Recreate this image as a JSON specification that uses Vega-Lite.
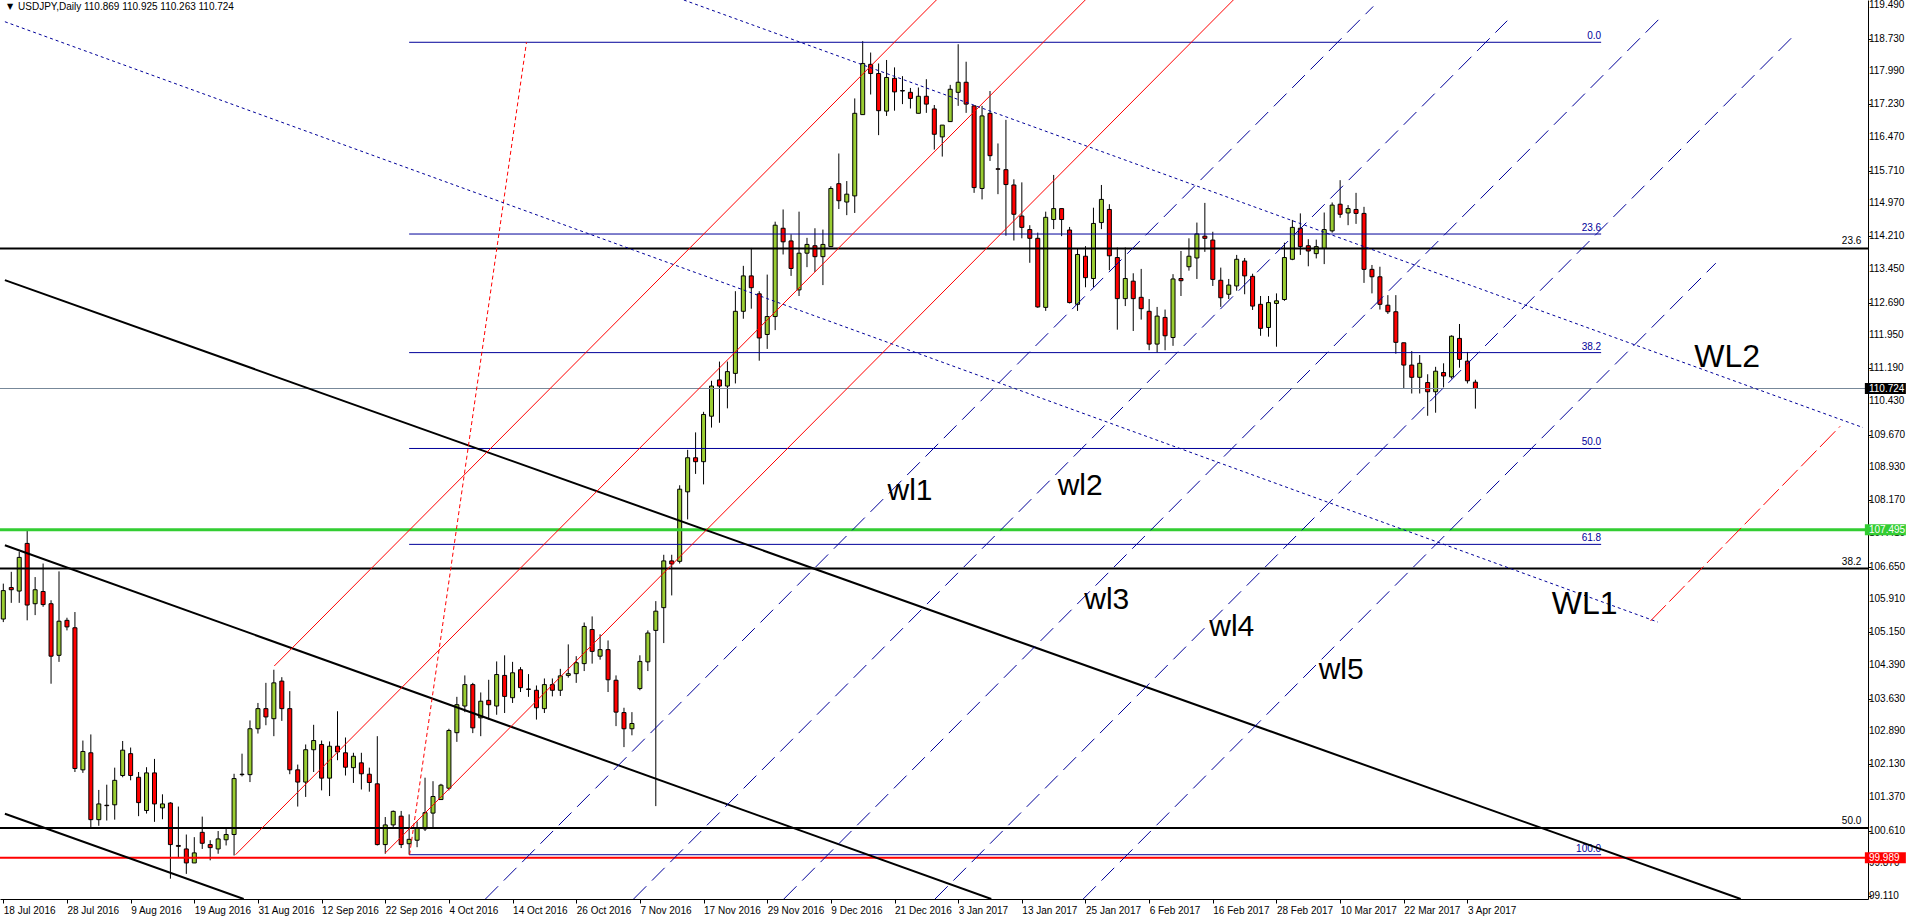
{
  "$schema": "https://vega.github.io/schema/vega-lite/v6.json",
  "width": 1868,
  "height": 899,
  "autosize": {"type": "none"},
  "padding": {"left": 0, "top": 0, "right": 45, "bottom": 24},
  "background": "white",
  "config": {
    "view": {"stroke": null},
    "font": "Liberation Sans",
    "axis": {"grid": false, "title": null, "labelColor": "#000000", "tickColor": "#000000", "domainColor": "#000000", "labelFontSize": 10, "labelFont": "Liberation Sans", "labelOverlap": false, "labelFlush": false, "labelBound": false}
  },
  "datasets": {
    "candles": [
      {"i":0,"o":105.45,"h":106.26,"l":105.38,"c":106.10},
      {"i":1,"o":106.17,"h":106.53,"l":105.82,"c":106.12},
      {"i":2,"o":106.09,"h":106.99,"l":105.82,"c":106.86},
      {"i":3,"o":107.18,"h":107.48,"l":105.42,"c":105.77},
      {"i":4,"o":105.80,"h":106.41,"l":105.54,"c":106.12},
      {"i":5,"o":106.08,"h":106.72,"l":105.73,"c":105.78},
      {"i":6,"o":105.80,"h":105.88,"l":103.97,"c":104.60},
      {"i":7,"o":104.62,"h":106.54,"l":104.47,"c":105.40},
      {"i":8,"o":105.42,"h":105.48,"l":105.19,"c":105.27},
      {"i":9,"o":105.25,"h":105.61,"l":101.95,"c":102.03},
      {"i":10,"o":102.00,"h":102.67,"l":101.93,"c":102.42},
      {"i":11,"o":102.39,"h":102.81,"l":100.69,"c":100.86},
      {"i":12,"o":100.86,"h":101.54,"l":100.72,"c":101.22},
      {"i":13,"o":101.19,"h":101.66,"l":100.84,"c":101.18},
      {"i":14,"o":101.20,"h":102.05,"l":100.86,"c":101.76},
      {"i":15,"o":101.87,"h":102.66,"l":101.83,"c":102.45},
      {"i":16,"o":102.37,"h":102.51,"l":101.76,"c":101.87},
      {"i":17,"o":101.83,"h":101.95,"l":100.94,"c":101.25},
      {"i":18,"o":101.07,"h":102.06,"l":101.00,"c":101.93},
      {"i":19,"o":101.93,"h":102.25,"l":100.81,"c":101.22},
      {"i":20,"o":101.13,"h":101.44,"l":100.87,"c":101.22},
      {"i":21,"o":101.24,"h":101.26,"l":99.51,"c":100.29},
      {"i":22,"o":100.27,"h":101.16,"l":100.00,"c":100.25},
      {"i":23,"o":100.19,"h":100.52,"l":99.62,"c":99.87},
      {"i":24,"o":99.87,"h":100.46,"l":99.87,"c":100.10},
      {"i":25,"o":100.57,"h":100.93,"l":100.19,"c":100.32},
      {"i":26,"o":100.29,"h":100.39,"l":99.93,"c":100.22},
      {"i":27,"o":100.19,"h":100.60,"l":100.08,"c":100.42},
      {"i":28,"o":100.40,"h":100.67,"l":100.27,"c":100.52},
      {"i":29,"o":100.52,"h":101.91,"l":100.04,"c":101.80},
      {"i":30,"o":101.90,"h":102.37,"l":101.85,"c":101.89},
      {"i":31,"o":101.89,"h":103.13,"l":101.72,"c":102.94},
      {"i":32,"o":102.94,"h":103.53,"l":102.83,"c":103.40},
      {"i":33,"o":103.40,"h":103.99,"l":103.02,"c":103.21},
      {"i":34,"o":103.17,"h":104.29,"l":102.77,"c":103.99},
      {"i":35,"o":104.03,"h":104.12,"l":103.12,"c":103.40},
      {"i":36,"o":103.40,"h":103.80,"l":101.90,"c":102.00},
      {"i":37,"o":102.00,"h":102.12,"l":101.16,"c":101.72},
      {"i":38,"o":101.72,"h":102.58,"l":101.38,"c":102.46},
      {"i":39,"o":102.46,"h":103.03,"l":101.95,"c":102.67},
      {"i":40,"o":102.58,"h":102.67,"l":101.53,"c":101.81},
      {"i":41,"o":101.81,"h":102.65,"l":101.40,"c":102.54},
      {"i":42,"o":102.54,"h":103.34,"l":102.22,"c":102.41},
      {"i":43,"o":102.39,"h":102.74,"l":101.87,"c":102.06},
      {"i":44,"o":102.05,"h":102.39,"l":101.70,"c":102.31},
      {"i":45,"o":102.16,"h":102.39,"l":101.55,"c":101.91},
      {"i":46,"o":101.90,"h":102.05,"l":101.50,"c":101.71},
      {"i":47,"o":101.68,"h":102.77,"l":100.27,"c":100.29},
      {"i":48,"o":100.29,"h":100.92,"l":100.08,"c":100.74},
      {"i":49,"o":100.74,"h":101.07,"l":100.68,"c":101.05},
      {"i":50,"o":100.94,"h":101.06,"l":100.21,"c":100.29},
      {"i":51,"o":100.31,"h":100.98,"l":100.06,"c":100.41},
      {"i":52,"o":100.39,"h":100.82,"l":100.23,"c":100.67},
      {"i":53,"o":100.65,"h":101.82,"l":100.60,"c":101.02},
      {"i":54,"o":101.01,"h":101.74,"l":100.69,"c":101.39},
      {"i":55,"o":101.32,"h":101.68,"l":101.32,"c":101.65},
      {"i":56,"o":101.58,"h":102.94,"l":101.53,"c":102.90},
      {"i":57,"o":102.85,"h":103.67,"l":102.64,"c":103.49},
      {"i":58,"o":103.46,"h":104.16,"l":103.32,"c":103.95},
      {"i":59,"o":103.95,"h":103.99,"l":102.84,"c":102.96},
      {"i":60,"o":103.19,"h":103.77,"l":102.77,"c":103.57},
      {"i":61,"o":103.59,"h":104.06,"l":103.15,"c":103.49},
      {"i":62,"o":103.46,"h":104.48,"l":103.26,"c":104.18},
      {"i":63,"o":104.16,"h":104.62,"l":103.30,"c":103.68},
      {"i":64,"o":103.65,"h":104.47,"l":103.53,"c":104.22},
      {"i":65,"o":104.29,"h":104.35,"l":103.78,"c":103.88},
      {"i":66,"o":103.85,"h":104.19,"l":103.67,"c":103.84},
      {"i":67,"o":103.82,"h":103.93,"l":103.15,"c":103.42},
      {"i":68,"o":103.40,"h":104.09,"l":103.30,"c":103.95},
      {"i":69,"o":103.95,"h":104.09,"l":103.68,"c":103.82},
      {"i":70,"o":103.82,"h":104.31,"l":103.69,"c":104.15},
      {"i":71,"o":104.16,"h":104.87,"l":104.11,"c":104.20},
      {"i":72,"o":104.20,"h":104.60,"l":103.99,"c":104.45},
      {"i":73,"o":104.43,"h":105.37,"l":104.26,"c":105.28},
      {"i":74,"o":105.21,"h":105.51,"l":104.43,"c":104.71},
      {"i":75,"o":104.60,"h":105.10,"l":104.52,"c":104.75},
      {"i":76,"o":104.75,"h":104.96,"l":103.78,"c":104.06},
      {"i":77,"o":104.05,"h":104.16,"l":103.00,"c":103.32},
      {"i":78,"o":103.31,"h":103.42,"l":102.52,"c":102.94},
      {"i":79,"o":102.94,"h":103.32,"l":102.79,"c":103.06},
      {"i":80,"o":103.86,"h":104.62,"l":103.82,"c":104.48},
      {"i":81,"o":104.47,"h":105.19,"l":104.26,"c":105.13},
      {"i":82,"o":105.19,"h":105.86,"l":101.17,"c":105.63},
      {"i":83,"o":105.71,"h":106.92,"l":104.90,"c":106.78},
      {"i":84,"o":106.78,"h":106.92,"l":105.99,"c":106.71},
      {"i":85,"o":106.77,"h":108.51,"l":106.72,"c":108.42},
      {"i":86,"o":108.36,"h":109.32,"l":107.73,"c":109.14},
      {"i":87,"o":109.14,"h":109.72,"l":108.77,"c":109.05},
      {"i":88,"o":109.05,"h":110.19,"l":108.53,"c":110.13},
      {"i":89,"o":110.09,"h":110.90,"l":109.83,"c":110.78},
      {"i":90,"o":110.92,"h":111.34,"l":109.94,"c":110.78},
      {"i":91,"o":110.78,"h":111.34,"l":110.27,"c":111.11},
      {"i":92,"o":111.07,"h":112.95,"l":110.84,"c":112.49},
      {"i":93,"o":112.49,"h":113.53,"l":112.32,"c":113.30},
      {"i":94,"o":113.30,"h":113.94,"l":112.55,"c":113.03},
      {"i":95,"o":112.89,"h":112.95,"l":111.36,"c":111.88},
      {"i":96,"o":111.96,"h":113.33,"l":111.63,"c":112.37},
      {"i":97,"o":112.37,"h":114.54,"l":112.06,"c":114.46},
      {"i":98,"o":114.39,"h":114.82,"l":113.79,"c":114.08},
      {"i":99,"o":114.10,"h":114.25,"l":113.30,"c":113.47},
      {"i":100,"o":112.98,"h":114.77,"l":112.84,"c":113.82},
      {"i":101,"o":113.82,"h":114.17,"l":113.50,"c":114.02},
      {"i":102,"o":113.99,"h":114.39,"l":113.39,"c":113.74},
      {"i":103,"o":113.74,"h":114.36,"l":113.09,"c":114.02},
      {"i":104,"o":113.97,"h":115.35,"l":113.97,"c":115.30},
      {"i":105,"o":115.41,"h":116.10,"l":114.83,"c":115.02},
      {"i":106,"o":114.99,"h":115.47,"l":114.69,"c":115.17},
      {"i":107,"o":115.13,"h":117.36,"l":114.74,"c":117.02},
      {"i":108,"o":116.99,"h":118.67,"l":116.99,"c":118.16},
      {"i":109,"o":118.14,"h":118.41,"l":117.45,"c":117.93},
      {"i":110,"o":117.93,"h":118.16,"l":116.52,"c":117.08},
      {"i":111,"o":117.07,"h":118.24,"l":116.96,"c":117.84},
      {"i":112,"o":117.82,"h":118.07,"l":117.08,"c":117.51},
      {"i":113,"o":117.54,"h":117.87,"l":117.23,"c":117.53},
      {"i":114,"o":117.50,"h":117.60,"l":117.13,"c":117.36},
      {"i":115,"o":117.02,"h":117.61,"l":117.02,"c":117.41},
      {"i":116,"o":117.41,"h":117.80,"l":117.03,"c":117.23},
      {"i":117,"o":117.12,"h":117.21,"l":116.19,"c":116.54},
      {"i":118,"o":116.48,"h":116.75,"l":116.03,"c":116.75},
      {"i":119,"o":116.83,"h":117.67,"l":116.83,"c":117.57},
      {"i":120,"o":117.50,"h":118.60,"l":117.19,"c":117.73},
      {"i":121,"o":117.73,"h":118.20,"l":117.03,"c":117.23},
      {"i":122,"o":117.19,"h":117.19,"l":115.20,"c":115.32},
      {"i":123,"o":115.30,"h":117.19,"l":115.05,"c":116.96},
      {"i":124,"o":117.02,"h":117.53,"l":115.93,"c":116.05},
      {"i":125,"o":115.75,"h":116.33,"l":115.17,"c":115.74},
      {"i":126,"o":115.73,"h":116.87,"l":114.22,"c":115.39},
      {"i":127,"o":115.38,"h":115.51,"l":114.11,"c":114.71},
      {"i":128,"o":114.67,"h":115.44,"l":114.16,"c":114.41},
      {"i":129,"o":114.36,"h":114.46,"l":113.60,"c":114.16},
      {"i":130,"o":114.16,"h":114.29,"l":112.57,"c":112.59},
      {"i":131,"o":112.58,"h":114.77,"l":112.50,"c":114.64},
      {"i":132,"o":114.59,"h":115.61,"l":114.37,"c":114.84},
      {"i":133,"o":114.84,"h":114.84,"l":114.21,"c":114.59},
      {"i":134,"o":114.35,"h":114.42,"l":112.67,"c":112.69},
      {"i":135,"o":112.65,"h":113.93,"l":112.50,"c":113.79},
      {"i":136,"o":113.75,"h":113.98,"l":113.04,"c":113.26},
      {"i":137,"o":113.24,"h":114.86,"l":113.04,"c":114.50},
      {"i":138,"o":114.52,"h":115.38,"l":114.37,"c":115.05},
      {"i":139,"o":114.82,"h":114.94,"l":113.43,"c":113.76},
      {"i":140,"o":113.72,"h":113.95,"l":112.07,"c":112.78},
      {"i":141,"o":112.78,"h":113.95,"l":112.61,"c":113.24},
      {"i":142,"o":113.18,"h":113.36,"l":112.04,"c":112.78},
      {"i":143,"o":112.81,"h":113.46,"l":112.30,"c":112.55},
      {"i":144,"o":112.49,"h":112.77,"l":111.60,"c":111.74},
      {"i":145,"o":111.74,"h":112.59,"l":111.55,"c":112.38},
      {"i":146,"o":112.35,"h":112.53,"l":111.60,"c":111.93},
      {"i":147,"o":111.89,"h":113.34,"l":111.70,"c":113.23},
      {"i":148,"o":113.24,"h":113.87,"l":112.84,"c":113.19},
      {"i":149,"o":113.51,"h":114.16,"l":113.42,"c":113.75},
      {"i":150,"o":113.71,"h":114.52,"l":113.23,"c":114.26},
      {"i":151,"o":114.21,"h":114.97,"l":113.85,"c":114.16},
      {"i":152,"o":114.12,"h":114.31,"l":113.07,"c":113.22},
      {"i":153,"o":113.20,"h":113.49,"l":112.59,"c":112.80},
      {"i":154,"o":112.88,"h":113.23,"l":112.77,"c":113.09},
      {"i":155,"o":113.07,"h":113.78,"l":112.96,"c":113.68},
      {"i":156,"o":113.64,"h":113.71,"l":112.88,"c":113.30},
      {"i":157,"o":113.29,"h":113.35,"l":112.52,"c":112.61},
      {"i":158,"o":112.65,"h":112.84,"l":111.93,"c":112.10},
      {"i":159,"o":112.12,"h":112.84,"l":111.91,"c":112.69},
      {"i":160,"o":112.67,"h":112.90,"l":111.68,"c":112.73},
      {"i":161,"o":112.76,"h":114.06,"l":112.73,"c":113.72},
      {"i":162,"o":113.68,"h":114.58,"l":113.66,"c":114.41},
      {"i":163,"o":114.39,"h":114.73,"l":113.78,"c":113.97},
      {"i":164,"o":113.99,"h":114.14,"l":113.52,"c":113.87},
      {"i":165,"o":113.81,"h":114.13,"l":113.70,"c":113.97},
      {"i":166,"o":113.93,"h":114.75,"l":113.57,"c":114.36},
      {"i":167,"o":114.33,"h":114.98,"l":114.29,"c":114.92},
      {"i":168,"o":114.94,"h":115.49,"l":114.63,"c":114.71},
      {"i":169,"o":114.74,"h":114.92,"l":114.46,"c":114.84},
      {"i":170,"o":114.82,"h":115.20,"l":114.49,"c":114.73},
      {"i":171,"o":114.73,"h":114.88,"l":113.14,"c":113.45},
      {"i":172,"o":113.45,"h":113.55,"l":112.90,"c":113.28},
      {"i":173,"o":113.28,"h":113.51,"l":112.53,"c":112.65},
      {"i":174,"o":112.63,"h":112.86,"l":112.43,"c":112.48},
      {"i":175,"o":112.48,"h":112.86,"l":111.52,"c":111.78},
      {"i":176,"o":111.77,"h":111.77,"l":110.72,"c":111.26},
      {"i":177,"o":111.26,"h":111.58,"l":110.61,"c":110.98},
      {"i":178,"o":110.98,"h":111.49,"l":110.61,"c":111.30},
      {"i":179,"o":110.86,"h":111.05,"l":110.10,"c":110.65},
      {"i":180,"o":110.65,"h":111.22,"l":110.17,"c":111.12},
      {"i":181,"o":111.09,"h":111.30,"l":110.75,"c":111.01},
      {"i":182,"o":110.99,"h":111.94,"l":110.95,"c":111.92},
      {"i":183,"o":111.87,"h":112.20,"l":111.20,"c":111.39},
      {"i":184,"o":111.35,"h":111.56,"l":110.84,"c":110.90},
      {"i":185,"o":110.869,"h":110.925,"l":110.263,"c":110.724}
    ],
    "yticks": [
      {"v":99.11},{"v":99.87},{"v":100.61},{"v":101.37},{"v":102.13},{"v":102.89},{"v":103.63},
      {"v":104.39},{"v":105.15},{"v":105.91},{"v":106.65},{"v":107.41},{"v":108.17},{"v":108.93},
      {"v":109.67},{"v":110.43},{"v":111.19},{"v":111.95},{"v":112.69},{"v":113.45},{"v":114.21},
      {"v":114.97},{"v":115.71},{"v":116.47},{"v":117.23},{"v":117.99},{"v":118.73},{"v":119.49}
    ],
    "hlines": [
      {"p":113.928,"k":"blackfib"},
      {"p":106.604,"k":"blackfib"},
      {"p":100.667,"k":"blackfib"},
      {"p":110.724,"k":"bid"},
      {"p":107.495,"k":"green"},
      {"p":99.989,"k":"red"}
    ],
    "bluefib": [
      {"t":"0.0","p":118.645},
      {"t":"23.6","p":114.258},
      {"t":"38.2","p":111.545},
      {"t":"50.0","p":109.352},
      {"t":"61.8","p":107.158},
      {"t":"100.0","p":100.058}
    ],
    "blackfib": [
      {"t":"23.6","p":113.928},
      {"t":"38.2","p":106.604},
      {"t":"50.0","p":100.667}
    ],
    "segs": [
      {"g":"black","x1":0.2,"p1":113.203,"x2":218.34,"p2":99.045},
      {"g":"black","x1":0.2,"p1":107.138,"x2":124.16,"p2":99.045},
      {"g":"black","x1":0.2,"p1":100.996,"x2":30.21,"p2":99.045},
      {"g":"red","x1":34.05,"p1":104.375,"x2":117.26,"p2":119.612},
      {"g":"red","x1":29.18,"p1":100.057,"x2":135.97,"p2":119.612},
      {"g":"red","x1":48.0,"p1":100.097,"x2":154.58,"p2":119.612},
      {"g":"reddash","x1":207.0,"p1":105.405,"x2":230.84,"p2":109.86},
      {"g":"reddot","x1":51.06,"p1":100.06,"x2":65.75,"p2":118.645},
      {"g":"navydash","x1":60.59,"p1":99.045,"x2":172.16,"p2":119.465},
      {"g":"navydash","x1":79.21,"p1":99.045,"x2":189.0,"p2":119.138},
      {"g":"navydash","x1":98.09,"p1":99.045,"x2":208.15,"p2":119.188},
      {"g":"navydash","x1":117.09,"p1":99.045,"x2":224.71,"p2":118.742},
      {"g":"navydash","x1":135.71,"p1":99.045,"x2":215.21,"p2":113.592},
      {"g":"navydot","x1":0.2,"p1":119.115,"x2":207.93,"p2":105.38},
      {"g":"navydot","x1":85.52,"p1":119.612,"x2":233.71,"p2":109.83}
    ],
    "notes": [
      {"t":"wl1","i":111.12,"p":108.17},
      {"t":"wl2","i":132.5,"p":108.29},
      {"t":"wl3","i":135.84,"p":105.69},
      {"t":"wl4","i":151.55,"p":105.055},
      {"t":"wl5","i":165.3,"p":104.07}
    ],
    "bignotes": [
      {"t":"WL2","i":212.5,"p":111.218},
      {"t":"WL1","i":194.6,"p":105.558}
    ],
    "boxes": [
      {"p":110.724,"k":"bid"},
      {"p":107.495,"k":"green"},
      {"p":99.989,"k":"red"}
    ]
  },
  "layer": [
    {
      "data": {"name": "candles"},
      "mark": {"type": "rule", "color": "#000000", "strokeWidth": 1, "clip": true},
      "encoding": {
        "x": {"field": "i", "type": "quantitative", "scale": {"domain": [0.2125, 233.71], "nice": false, "zero": false},
          "axis": {"orient": "bottom", "values": [0,8,16,24,32,40,48,56,64,72,80,88,96,104,112,120,128,136,144,152,160,168,176,184],
            "labelExpr": "['18 Jul 2016','28 Jul 2016','9 Aug 2016','19 Aug 2016','31 Aug 2016','12 Sep 2016','22 Sep 2016','4 Oct 2016','14 Oct 2016','26 Oct 2016','7 Nov 2016','17 Nov 2016','29 Nov 2016','9 Dec 2016','21 Dec 2016','3 Jan 2017','13 Jan 2017','25 Jan 2017','6 Feb 2017','16 Feb 2017','28 Feb 2017','10 Mar 2017','22 Mar 2017','3 Apr 2017'][round(datum.value / 8)]",
            "labelAlign": "left", "labelBaseline": "top", "labelPadding": 2, "labelDx": 1, "tickSize": 4,
            "labelOverlap": false, "labelFlush": false, "labelBound": false, "title": null}},
        "y": {"field": "l", "type": "quantitative", "scale": {"domain": [99.045, 119.612], "nice": false, "zero": false},
          "axis": {"orient": "right", "values": [99.11,99.87,100.61,101.37,102.13,102.89,103.63,104.39,105.15,105.91,106.65,107.41,108.17,108.93,109.67,110.43,111.19,111.95,112.69,113.45,114.21,114.97,115.71,116.47,117.23,117.99,118.73,119.49],
            "labels": false, "tickSize": 3, "title": null}},
        "y2": {"field": "h"}
      }
    },
    {
      "data": {"name": "yticks"},
      "mark": {"type": "text", "color": "#000000", "fontSize": 10, "align": "left", "baseline": "middle", "font": "Liberation Sans", "clip": false},
      "encoding": {
        "x": {"datum": 234.46, "type": "quantitative", "scale": {"domain": [0.2125, 233.71], "nice": false, "zero": false}, "title": null},
        "y": {"field": "v", "type": "quantitative", "scale": {"domain": [99.045, 119.612], "nice": false, "zero": false}, "title": null},
        "text": {"field": "v", "type": "quantitative", "format": ".3f"}
      }
    },
    {
      "data": {"name": "candles"},
      "mark": {"type": "bar", "size": 4, "stroke": "#000000", "strokeWidth": 1, "clip": true},
      "encoding": {
        "x": {"field": "i", "type": "quantitative", "scale": {"domain": [0.2125, 233.71], "nice": false, "zero": false}, "title": null},
        "y": {"field": "o", "type": "quantitative", "scale": {"domain": [99.045, 119.612], "nice": false, "zero": false}, "title": null},
        "y2": {"field": "c"},
        "fill": {"condition": {"test": "datum.c >= datum.o", "value": "#9acd32"}, "value": "#ff0000"}
      }
    },
    {
      "data": {"name": "hlines"},
      "transform": [{"filter": "datum.k == 'blackfib'"}],
      "mark": {"type": "rule", "color": "#000000", "strokeWidth": 2},
      "encoding": {"y": {"field": "p", "type": "quantitative", "scale": {"domain": [99.045, 119.612], "nice": false, "zero": false}, "title": null}}
    },
    {
      "data": {"name": "hlines"},
      "transform": [{"filter": "datum.k == 'bid'"}],
      "mark": {"type": "rule", "color": "#778899", "strokeWidth": 1},
      "encoding": {"y": {"field": "p", "type": "quantitative", "scale": {"domain": [99.045, 119.612], "nice": false, "zero": false}, "title": null}}
    },
    {
      "data": {"name": "hlines"},
      "transform": [{"filter": "datum.k == 'green'"}],
      "mark": {"type": "rule", "color": "#32cd32", "strokeWidth": 3},
      "encoding": {"y": {"field": "p", "type": "quantitative", "scale": {"domain": [99.045, 119.612], "nice": false, "zero": false}, "title": null}}
    },
    {
      "data": {"name": "hlines"},
      "transform": [{"filter": "datum.k == 'red'"}],
      "mark": {"type": "rule", "color": "#ff0000", "strokeWidth": 2},
      "encoding": {"y": {"field": "p", "type": "quantitative", "scale": {"domain": [99.045, 119.612], "nice": false, "zero": false}, "title": null}}
    },
    {
      "data": {"name": "bluefib"},
      "mark": {"type": "rule", "color": "#000099", "strokeWidth": 1},
      "encoding": {
        "x": {"datum": 51, "type": "quantitative", "scale": {"domain": [0.2125, 233.71], "nice": false, "zero": false}, "title": null},
        "x2": {"datum": 200.8},
        "y": {"field": "p", "type": "quantitative", "scale": {"domain": [99.045, 119.612], "nice": false, "zero": false}, "title": null}
      }
    },
    {
      "data": {"name": "bluefib"},
      "mark": {"type": "text", "color": "#000099", "fontSize": 10, "align": "right", "baseline": "bottom", "dy": -1, "font": "Liberation Sans"},
      "encoding": {
        "x": {"datum": 200.8, "type": "quantitative", "scale": {"domain": [0.2125, 233.71], "nice": false, "zero": false}, "title": null},
        "y": {"field": "p", "type": "quantitative", "scale": {"domain": [99.045, 119.612], "nice": false, "zero": false}, "title": null},
        "text": {"field": "t"}
      }
    },
    {
      "data": {"name": "blackfib"},
      "mark": {"type": "text", "color": "#000000", "fontSize": 10, "align": "right", "baseline": "bottom", "dy": -2, "font": "Liberation Sans"},
      "encoding": {
        "x": {"datum": 233.5, "type": "quantitative", "scale": {"domain": [0.2125, 233.71], "nice": false, "zero": false}, "title": null},
        "y": {"field": "p", "type": "quantitative", "scale": {"domain": [99.045, 119.612], "nice": false, "zero": false}, "title": null},
        "text": {"field": "t"}
      }
    },
    {
      "data": {"name": "segs"},
      "transform": [{"filter": "datum.g == 'black'"}],
      "mark": {"type": "rule", "color": "#000000", "strokeWidth": 2, "clip": true},
      "encoding": {
        "x": {"field": "x1", "type": "quantitative", "scale": {"domain": [0.2125, 233.71], "nice": false, "zero": false}, "title": null},
        "x2": {"field": "x2"},
        "y": {"field": "p1", "type": "quantitative", "scale": {"domain": [99.045, 119.612], "nice": false, "zero": false}, "title": null},
        "y2": {"field": "p2"}
      }
    },
    {
      "data": {"name": "segs"},
      "transform": [{"filter": "datum.g == 'red'"}],
      "mark": {"type": "rule", "color": "#ff0000", "strokeWidth": 1, "clip": true},
      "encoding": {
        "x": {"field": "x1", "type": "quantitative", "scale": {"domain": [0.2125, 233.71], "nice": false, "zero": false}, "title": null},
        "x2": {"field": "x2"},
        "y": {"field": "p1", "type": "quantitative", "scale": {"domain": [99.045, 119.612], "nice": false, "zero": false}, "title": null},
        "y2": {"field": "p2"}
      }
    },
    {
      "data": {"name": "segs"},
      "transform": [{"filter": "datum.g == 'reddash'"}],
      "mark": {"type": "rule", "color": "#ff0000", "strokeWidth": 1, "strokeDash": [22, 5], "clip": true},
      "encoding": {
        "x": {"field": "x1", "type": "quantitative", "scale": {"domain": [0.2125, 233.71], "nice": false, "zero": false}, "title": null},
        "x2": {"field": "x2"},
        "y": {"field": "p1", "type": "quantitative", "scale": {"domain": [99.045, 119.612], "nice": false, "zero": false}, "title": null},
        "y2": {"field": "p2"}
      }
    },
    {
      "data": {"name": "segs"},
      "transform": [{"filter": "datum.g == 'reddot'"}],
      "mark": {"type": "rule", "color": "#ff0000", "strokeWidth": 1, "strokeDash": [4, 3], "clip": true},
      "encoding": {
        "x": {"field": "x1", "type": "quantitative", "scale": {"domain": [0.2125, 233.71], "nice": false, "zero": false}, "title": null},
        "x2": {"field": "x2"},
        "y": {"field": "p1", "type": "quantitative", "scale": {"domain": [99.045, 119.612], "nice": false, "zero": false}, "title": null},
        "y2": {"field": "p2"}
      }
    },
    {
      "data": {"name": "segs"},
      "transform": [{"filter": "datum.g == 'navydash'"}],
      "mark": {"type": "rule", "color": "#000099", "strokeWidth": 1, "strokeDash": [18, 8], "clip": true},
      "encoding": {
        "x": {"field": "x1", "type": "quantitative", "scale": {"domain": [0.2125, 233.71], "nice": false, "zero": false}, "title": null},
        "x2": {"field": "x2"},
        "y": {"field": "p1", "type": "quantitative", "scale": {"domain": [99.045, 119.612], "nice": false, "zero": false}, "title": null},
        "y2": {"field": "p2"}
      }
    },
    {
      "data": {"name": "segs"},
      "transform": [{"filter": "datum.g == 'navydot'"}],
      "mark": {"type": "rule", "color": "#000099", "strokeWidth": 1, "strokeDash": [3, 3], "clip": true},
      "encoding": {
        "x": {"field": "x1", "type": "quantitative", "scale": {"domain": [0.2125, 233.71], "nice": false, "zero": false}, "title": null},
        "x2": {"field": "x2"},
        "y": {"field": "p1", "type": "quantitative", "scale": {"domain": [99.045, 119.612], "nice": false, "zero": false}, "title": null},
        "y2": {"field": "p2"}
      }
    },
    {
      "data": {"name": "notes"},
      "mark": {"type": "text", "color": "#000000", "fontSize": 30, "align": "left", "baseline": "alphabetic", "font": "Liberation Sans"},
      "encoding": {
        "x": {"field": "i", "type": "quantitative", "scale": {"domain": [0.2125, 233.71], "nice": false, "zero": false}, "title": null},
        "y": {"field": "p", "type": "quantitative", "scale": {"domain": [99.045, 119.612], "nice": false, "zero": false}, "title": null},
        "text": {"field": "t"}
      }
    },
    {
      "data": {"name": "bignotes"},
      "mark": {"type": "text", "color": "#000000", "fontSize": 32, "align": "left", "baseline": "alphabetic", "font": "Liberation Sans"},
      "encoding": {
        "x": {"field": "i", "type": "quantitative", "scale": {"domain": [0.2125, 233.71], "nice": false, "zero": false}, "title": null},
        "y": {"field": "p", "type": "quantitative", "scale": {"domain": [99.045, 119.612], "nice": false, "zero": false}, "title": null},
        "text": {"field": "t"}
      }
    },
    {
      "data": {"values": [{"t": "\u25bc"}]},
      "mark": {"type": "text", "color": "#000000", "fontSize": 8, "align": "left", "baseline": "middle", "font": "DejaVu Sans"},
      "encoding": {
        "x": {"datum": 0.45, "type": "quantitative", "scale": {"domain": [0.2125, 233.71], "nice": false, "zero": false}, "title": null},
        "y": {"datum": 119.46, "type": "quantitative", "scale": {"domain": [99.045, 119.612], "nice": false, "zero": false}, "title": null},
        "text": {"field": "t"}
      }
    },
    {
      "data": {"values": [{"t": "USDJPY,Daily  110.869 110.925 110.263 110.724"}]},
      "mark": {"type": "text", "color": "#000000", "fontSize": 10, "align": "left", "baseline": "middle", "font": "Liberation Sans"},
      "encoding": {
        "x": {"datum": 1.85, "type": "quantitative", "scale": {"domain": [0.2125, 233.71], "nice": false, "zero": false}, "title": null},
        "y": {"datum": 119.46, "type": "quantitative", "scale": {"domain": [99.045, 119.612], "nice": false, "zero": false}, "title": null},
        "text": {"field": "t"}
      }
    },
    {
      "data": {"name": "boxes"},
      "mark": {"type": "tick", "orient": "horizontal", "size": 41, "thickness": 11, "opacity": 1, "clip": false},
      "encoding": {
        "x": {"datum": 236.52, "type": "quantitative", "scale": {"domain": [0.2125, 233.71], "nice": false, "zero": false}, "title": null},
        "y": {"field": "p", "type": "quantitative", "scale": {"domain": [99.045, 119.612], "nice": false, "zero": false}, "title": null},
        "color": {"field": "k", "type": "nominal", "scale": {"domain": ["bid", "green", "red"], "range": ["#000000", "#32cd32", "#ff0000"]}, "legend": null}
      }
    },
    {
      "data": {"name": "boxes"},
      "mark": {"type": "text", "color": "#ffffff", "fontSize": 10, "align": "left", "baseline": "middle", "font": "Liberation Sans", "clip": false},
      "encoding": {
        "x": {"datum": 234.46, "type": "quantitative", "scale": {"domain": [0.2125, 233.71], "nice": false, "zero": false}, "title": null},
        "y": {"field": "p", "type": "quantitative", "scale": {"domain": [99.045, 119.612], "nice": false, "zero": false}, "title": null},
        "text": {"field": "p", "type": "quantitative", "format": ".3f"}
      }
    }
  ]
}
